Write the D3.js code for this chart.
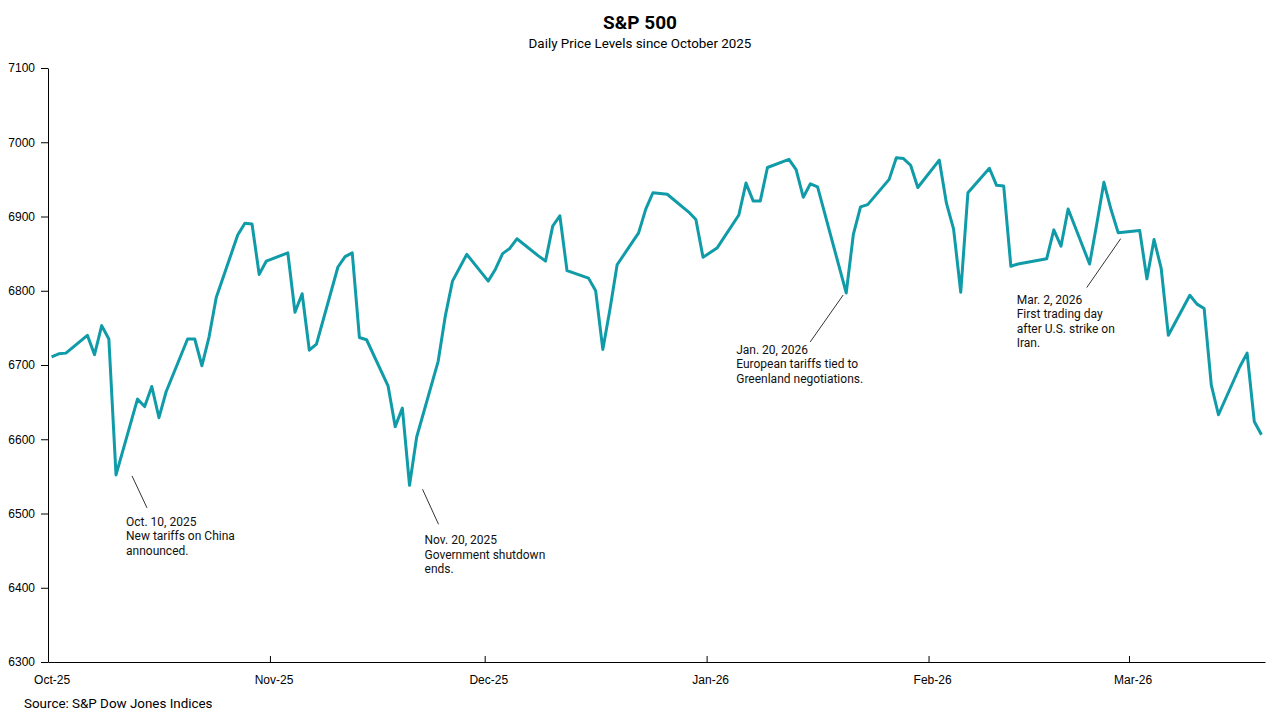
<!DOCTYPE html>
<html>
<head>
<meta charset="utf-8">
<script src="https://cdn.jsdelivr.net/npm/d3@7"></script>
<style>
  body { margin: 0; background: #fff; }
  svg { display: block; }
  .tick text { font-family: "Liberation Sans", Arial, sans-serif; font-size: 12px; fill: #000; }
  .note { font-family: Roboto, sans-serif; font-size: 12px; fill: #111; }
</style>
</head>
<body>
<svg id="chart"></svg>
<script>
// S&P 500 daily closes, Oct 1 2025 - Mar 19 2026
const dates = [
  '2025-10-01','2025-10-02','2025-10-03','2025-10-06','2025-10-07','2025-10-08','2025-10-09','2025-10-10',
  '2025-10-13','2025-10-14','2025-10-15','2025-10-16','2025-10-17','2025-10-20','2025-10-21','2025-10-22',
  '2025-10-23','2025-10-24','2025-10-27','2025-10-28','2025-10-29','2025-10-30','2025-10-31',
  '2025-11-03','2025-11-04','2025-11-05','2025-11-06','2025-11-07','2025-11-10','2025-11-11','2025-11-12',
  '2025-11-13','2025-11-14','2025-11-17','2025-11-18','2025-11-19','2025-11-20','2025-11-21','2025-11-24',
  '2025-11-25','2025-11-26','2025-11-28',
  '2025-12-01','2025-12-02','2025-12-03','2025-12-04','2025-12-05','2025-12-08','2025-12-09','2025-12-10',
  '2025-12-11','2025-12-12','2025-12-15','2025-12-16','2025-12-17','2025-12-18','2025-12-19','2025-12-22',
  '2025-12-23','2025-12-24','2025-12-26','2025-12-29','2025-12-30','2025-12-31',
  '2026-01-02','2026-01-05','2026-01-06','2026-01-07','2026-01-08','2026-01-09','2026-01-12','2026-01-13',
  '2026-01-14','2026-01-15','2026-01-16','2026-01-20','2026-01-21','2026-01-22','2026-01-23','2026-01-26',
  '2026-01-27','2026-01-28','2026-01-29','2026-01-30',
  '2026-02-02','2026-02-03','2026-02-04','2026-02-05','2026-02-06','2026-02-09','2026-02-10','2026-02-11',
  '2026-02-12','2026-02-13','2026-02-17','2026-02-18','2026-02-19','2026-02-20','2026-02-23','2026-02-24',
  '2026-02-25','2026-02-26','2026-02-27',
  '2026-03-02','2026-03-03','2026-03-04','2026-03-05','2026-03-06','2026-03-09','2026-03-10','2026-03-11',
  '2026-03-12','2026-03-13','2026-03-16','2026-03-17','2026-03-18','2026-03-19'
];

const closes = [
  6711, 6715, 6716, 6740, 6714, 6753, 6735, 6552,
  6654, 6644, 6671, 6629, 6664, 6735, 6735, 6699,
  6738, 6791, 6875, 6891, 6890, 6822, 6840,
  6851, 6771, 6796, 6720, 6728, 6832, 6846, 6851,
  6737, 6734, 6672, 6617, 6642, 6538, 6603, 6705,
  6766, 6813, 6849,
  6813, 6829, 6850, 6857, 6870, 6847, 6840, 6887,
  6901, 6827, 6817, 6800, 6721, 6775, 6835, 6878,
  6910, 6932, 6930, 6906, 6896, 6845,
  6858, 6902, 6945, 6921, 6921, 6966, 6977, 6963,
  6926, 6944, 6940, 6797, 6876, 6913, 6916, 6950,
  6979, 6978, 6969, 6939,
  6976, 6918, 6883, 6798, 6932, 6965, 6942, 6941,
  6833, 6836, 6843, 6882, 6860, 6910, 6836, 6890,
  6946, 6909, 6878,
  6881, 6816, 6869, 6830, 6740, 6794, 6782, 6776,
  6673, 6633, 6698, 6716, 6624, 6606
];

const yTicks = [6300, 6400, 6500, 6600, 6700, 6800, 6900, 7000, 7100];
const monthTicks = ['2025-10-01', '2025-11-01', '2025-12-01', '2026-01-01', '2026-02-01', '2026-03-01'];

const notes = [
  { date: '2025-10-10', lines: ['Oct. 10, 2025', 'New tariffs on China', 'announced.'], lead: [16, 1, 31, 33], text: [10, 51] },
  { date: '2025-11-20', lines: ['Nov. 20, 2025', 'Government shutdown', 'ends.'], lead: [13, 4, 29, 39], text: [15, 59] },
  { date: '2026-01-20', lines: ['Jan. 20, 2026', 'European tariffs tied to', 'Greenland negotiations.'], lead: [-3, 2, -36, 49], text: [-110, 61] },
  { date: '2026-03-02', lines: ['Mar. 2, 2026', 'First trading day', 'after U.S. strike on', 'Iran.'], lead: [-19, 8, -53, 57], text: [-123, 73] }
];

const width = 1280;
const height = 720;
const margin = { top: 68, right: 15, bottom: 58, left: 48 };
const halfDay = 12 * 3600 * 1000;
const parse = s => new Date(s + 'T00:00:00Z');

const data = dates.map((d, i) => ({ date: parse(d), value: closes[i] }));

const svg = d3.select('#chart')
  .attr('width', width)
  .attr('height', height);

const xScale = d3.scaleUtc()
  .domain([parse('2025-10-01'), parse('2026-03-20')])
  .range([margin.left, width - margin.right]);

const yScale = d3.scaleLinear()
  .domain([6300, 7100])
  .range([height - margin.bottom, margin.top]);

// title
svg.append('text')
  .attr('x', 640).attr('y', 29)
  .attr('text-anchor', 'middle')
  .style('font-family', 'Roboto, sans-serif')
  .style('font-size', '19px')
  .style('font-weight', 'bold')
  .text('S&P 500');

svg.append('text')
  .attr('x', 640).attr('y', 48)
  .attr('text-anchor', 'middle')
  .style('font-family', 'Roboto, sans-serif')
  .style('font-size', '13.4px')
  .text('Daily Price Levels since October 2025');

// axes
const xAxis = svg.append('g')
  .attr('transform', `translate(0,${height - margin.bottom})`)
  .call(d3.axisBottom(xScale)
    .tickValues(monthTicks.map(parse))
    .tickFormat(d3.utcFormat('%b-%y'))
    .tickSize(-6)
    .tickSizeOuter(0)
    .tickPadding(13));
// labels sit on the middle of the first day
xAxis.selectAll('.tick text').attr('x', xScale(parse('2025-10-01').getTime() + halfDay) - margin.left);
xAxis.select('.domain').attr('stroke', '#000');

const yAxis = svg.append('g')
  .attr('transform', `translate(${margin.left},0)`)
  .call(d3.axisLeft(yScale)
    .tickValues(yTicks)
    .tickFormat(d3.format('d'))
    .tickSize(7)
    .tickSizeOuter(0)
    .tickPadding(6));

// line
const line = d3.line()
  .x(d => xScale(d.date.getTime() + halfDay))
  .y(d => yScale(d.value));

svg.append('path')
  .datum(data)
  .attr('fill', 'none')
  .attr('stroke', '#109ba8')
  .attr('stroke-width', 3)
  .attr('stroke-linejoin', 'round')
  .attr('d', line);

// annotations
notes.forEach(n => {
  const pt = data.find(d => +d.date === +parse(n.date));
  const ax = xScale(pt.date.getTime() + halfDay);
  const ay = yScale(pt.value);
  svg.append('line')
    .attr('x1', ax + n.lead[0]).attr('y1', ay + n.lead[1])
    .attr('x2', ax + n.lead[2]).attr('y2', ay + n.lead[3])
    .attr('stroke', '#333')
    .attr('stroke-width', 1);
  const t = svg.append('text')
    .attr('class', 'note')
    .attr('x', ax + n.text[0])
    .attr('y', ay + n.text[1]);
  n.lines.forEach((l, i) => {
    t.append('tspan')
      .attr('x', ax + n.text[0])
      .attr('dy', i === 0 ? 0 : 14.5)
      .text(l);
  });
});

// source
svg.append('text')
  .attr('x', 24).attr('y', 708)
  .style('font-family', 'Roboto, sans-serif')
  .style('font-size', '13.4px')
  .text('Source: S&P Dow Jones Indices');
</script>
</body>
</html>
